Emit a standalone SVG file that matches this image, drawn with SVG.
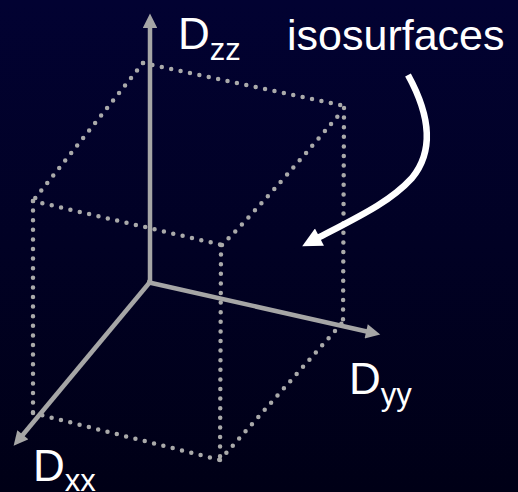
<svg xmlns="http://www.w3.org/2000/svg" width="518" height="492" viewBox="0 0 518 492">
<defs>
<linearGradient id="bg" x1="0" y1="0" x2="0" y2="1">
<stop offset="0" stop-color="#020232"/>
<stop offset="1" stop-color="#000016"/>
</linearGradient>
<marker id="ah" viewBox="0 0 10 10" refX="2" refY="5" markerWidth="3.4" markerHeight="3.2" orient="auto" markerUnits="strokeWidth">
<path d="M0,0 L10,5 L0,10 Z" fill="#a6a6a6"/>
</marker>
<marker id="wh" viewBox="0 0 10 10" refX="2" refY="5" markerWidth="3.4" markerHeight="3" orient="auto" markerUnits="strokeWidth">
<path d="M0,0 L10,5 L0,10 Z" fill="#ffffff"/>
</marker>
</defs>
<style>
.dot{fill:none;stroke:#aaaaaa;stroke-width:4.5;stroke-linecap:round;stroke-dasharray:0 9.6}
.axis{fill:none;stroke:#a6a6a6;stroke-width:4.5;marker-end:url(#ah)}
.lbl{font-family:"Liberation Sans",Arial,sans-serif;fill:#ffffff}
</style>
<rect x="0" y="0" width="518" height="492" fill="url(#bg)"/>
<g id="cube">
<path class="dot" d="M143,63 L345,106"/>
<path class="dot" d="M143,63 L33,201"/>
<path class="dot" d="M33,201 L222,245"/>
<path class="dot" d="M222,245 Q262,205 343,110"/>
<path class="dot" d="M33,201 L33,413"/>
<path class="dot" d="M33,413 L220,460"/>
<path class="dot" d="M221,245 L220,460"/>
<path class="dot" d="M344,108 L343,322"/>
<path class="dot" d="M220,460 L343,322"/>
</g>
<g id="connectors">
<line class="axis" x1="150" y1="282" x2="150" y2="25"/>
<line class="axis" x1="147" y1="282" x2="369" y2="332"/>
<line class="axis" x1="150" y1="282" x2="21" y2="437"/>
<path d="M408,75 C430,115 435,150 412,178 C390,202 360,216 316,239" fill="none" stroke="#ffffff" stroke-width="6.5" marker-end="url(#wh)"/>
</g>
<g id="Dzz"><text class="lbl" x="178" y="49" font-size="44">D<tspan font-size="31" dy="11">zz</tspan></text></g>
<g id="Dyy"><text class="lbl" x="349" y="394" font-size="44">D<tspan font-size="31" dy="11">yy</tspan></text></g>
<g id="Dxx"><text class="lbl" x="33" y="481" font-size="44">D<tspan font-size="31" dy="10">xx</tspan></text></g>
<g id="isosurfaces"><text class="lbl" x="287" y="50" font-size="43">isosurfaces</text></g>
</svg>
